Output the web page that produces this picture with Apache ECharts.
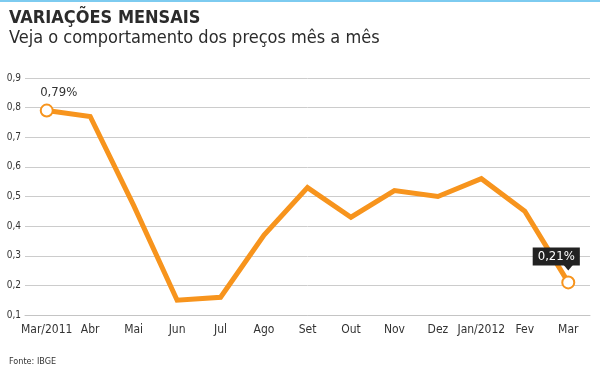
<!DOCTYPE html>
<html><head><meta charset="utf-8">
<script src="https://cdn.jsdelivr.net/npm/echarts@6/dist/echarts.min.js"></script>
<style>html,body{margin:0;padding:0;background:#fff}#c{width:600px;height:371px}</style>
</head><body><div id="c"></div>
<script>
const categories = ['Mar/2011','Abr','Mai','Jun','Jul','Ago','Set','Out','Nov','Dez','Jan/2012','Fev','Mar'];
const values = [0.79,0.77,0.47,0.15,0.16,0.37,0.53,0.43,0.52,0.50,0.56,0.45,0.21];
const yMin = 0.1, yMax = 0.9, yStep = 0.1;
const title = 'VARIAÇÕES MENSAIS';
const subtitle = 'Veja o comportamento dos preços mês a mês';
const source = 'Fonte: IBGE';
const orange = '#F7941D';
const fmt = v => v.toFixed(2).replace('.', ',') + '%';

const chart = echarts.init(document.getElementById('c'), null, {renderer:'canvas'});
const data = values.map((v,i) => {
  const d = {value: v};
  if (i === 0) {
    d.symbol = 'circle'; d.symbolSize = 12;
    d.label = {show:true, position:'top', distance:4, offset:[12,0], formatter: fmt(v), color:'#333', fontSize:13, fontFamily:'DejaVu Sans Condensed'};
  } else if (i === values.length-1) {
    d.symbol = 'circle'; d.symbolSize = 12;
    d.label = {show:true, position:'top', distance:10, offset:[-12,0], formatter: fmt(v), color:'#fff', fontSize:13, fontFamily:'DejaVu Sans Condensed', backgroundColor:'#222', padding:[3,5,2,5]};
  }
  return d;
});
chart.setOption({
  animation:false,
  graphic:[
    {type:'rect', shape:{x:0,y:0,width:600,height:2}, style:{fill:'#7DCBF0'}},
    {type:'text', left:9, top:9, style:{text:title, font:'bold 18px "DejaVu Sans Condensed"', fill:'#2b2b2b'}},
    {type:'text', left:9, top:29, style:{text:subtitle, font:'18px "DejaVu Sans Condensed"', fill:'#2b2b2b'}},
    {type:'text', left:9, top:357, style:{text:source, font:'9px "DejaVu Sans Condensed"', fill:'#333'}}
  ],
  grid:{left:25, right:10, top:78, bottom:56},
  xAxis:{type:'category', data:categories, boundaryGap:true,
    axisLine:{lineStyle:{color:'#c4c4c4', width:1}},
    axisTick:{inside:true, length:5, alignWithLabel:true, lineStyle:{color:'#c4c4c4'}},
    axisLabel:{color:'#333', fontSize:12, margin:9, fontFamily:'DejaVu Sans Condensed', interval:0}},
  yAxis:{type:'value', min:yMin, max:yMax, interval:yStep,
    axisLine:{show:false}, axisTick:{show:false},
    splitLine:{lineStyle:{color:'#ccc'}},
    axisLabel:{color:'#333', fontSize:10, margin:4, fontFamily:'DejaVu Sans Condensed',
      formatter: v => v.toFixed(1).replace('.', ',')}},
  series:[{
    type:'line', data:data, symbol:'none', showAllSymbol:true,
    lineStyle:{color:orange, width:5, join:'miter'},
    itemStyle:{color:'#fff', borderColor:orange, borderWidth:2},
    z:3,
    markPoint:{
      symbol:'triangle', symbolRotate:180, symbolSize:[10,6], symbolOffset:[0,-15],
      itemStyle:{color:'#222'}, label:{show:false},
      data:[{coord:[categories.length-1, values[values.length-1]]}]
    }
  }]
});
</script></body></html>
